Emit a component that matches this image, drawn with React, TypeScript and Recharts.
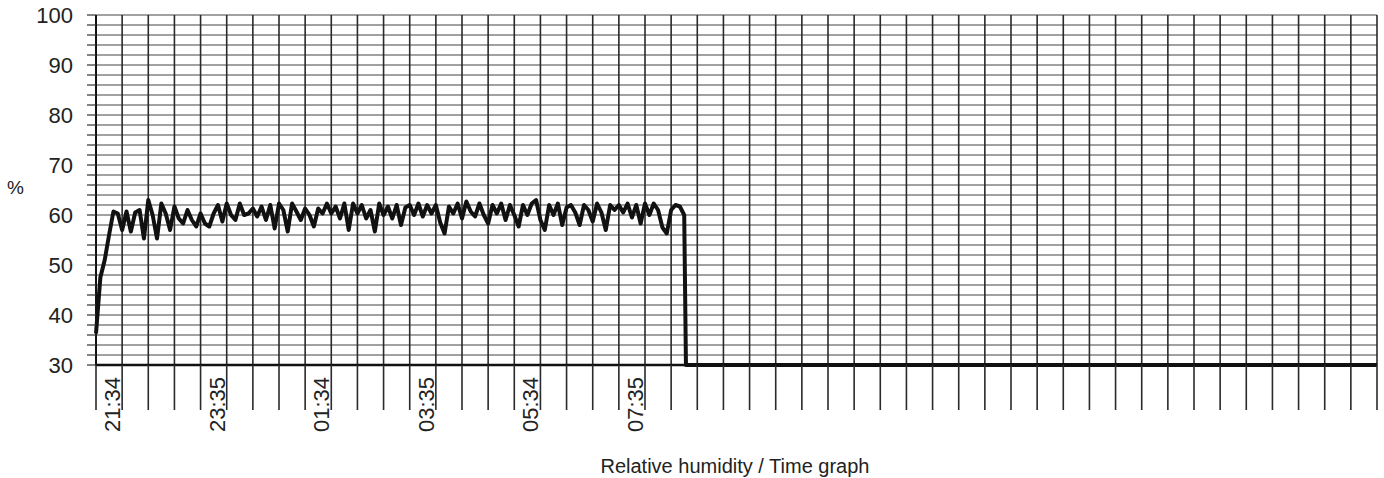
import { CartesianGrid, Line, LineChart, XAxis, YAxis } from 'recharts'

// logger samples every 5 minutes
const SAMPLE_MIN = 5

const rh = [
  36.3, 47.5, 51, 56, 60.7, 60.3, 57, 60.7, 56.7, 60.5,
  61, 55.3, 63, 60, 55.3, 62.3, 60.3, 57, 61.7, 59.3,
  58.3, 61, 59, 57.7, 60.3, 58.3, 57.7, 60.3, 62, 58.7,
  62.3, 60, 59, 62.3, 60, 60.3, 61.3, 59.7, 61.7, 59,
  62, 57.3, 62.3, 61, 56.7, 62.3, 60.7, 59, 61.3, 60,
  57.7, 61.3, 60.3, 62.3, 60.3, 61.7, 59.3, 62.3, 57, 62.3,
  60.3, 62, 59.3, 61, 56.7, 62.3, 60, 61.7, 59.3, 62,
  58, 61.5, 62, 60, 62.3, 59.7, 62, 60.3, 62, 58.5,
  56.3, 61.7, 60.3, 62.3, 59.3, 62.7, 60.7, 59.7, 62.3, 60,
  58.3, 62, 60.3, 62.3, 59, 62, 60, 57.7, 62, 60,
  62.3, 63, 59, 57, 62, 60, 62.3, 58, 61.5, 62,
  60.5, 58, 62, 61, 58.7, 62.3, 60.5, 57, 62, 61,
  62, 60.5, 62.3, 59.5, 62, 58.3, 62.3, 60, 62.3, 61,
  57.5, 56.3, 61, 62, 61.7, 60,
]

// sensor disconnected: reading pinned at the bottom of the scale
const tailMinutes = [677, 1470]
const tailRh = [30, 30]

const xTicks = [
  0, 30, 60, 90, 120, 150, 180, 210, 240, 270,
  300, 330, 360, 390, 420, 450, 480, 510, 540, 570,
  600, 630, 660, 690, 720, 750, 780, 810, 840, 870,
  900, 930, 960, 990, 1020, 1050, 1080, 1110, 1140, 1170,
  1200, 1230, 1260, 1290, 1320, 1350, 1380, 1410, 1440, 1470,
]
const xLabels: Record<number, string> = {
  30: '21:34',
  150: '23:35',
  270: '01:34',
  390: '03:35',
  510: '05:34',
  630: '07:35',
}

const yTicks = [
  30, 32, 34, 36, 38, 40, 42, 44, 46, 48,
  50, 52, 54, 56, 58, 60, 62, 64, 66, 68,
  70, 72, 74, 76, 78, 80, 82, 84, 86, 88,
  90, 92, 94, 96, 98, 100,
]

const data = [
  ...rh.map((v, i) => ({ t: i * SAMPLE_MIN, rh: v })),
  ...tailMinutes.map((t, i) => ({ t, rh: tailRh[i] })),
]

const FONT = '"Liberation Sans", Arial, sans-serif'
const INK = '#222'

const XTick = ({ x, y, payload }: any) => {
  const label = xLabels[payload.value]
  if (!label) return <g />
  const ax = x - 2
  const ay = y - 35
  return (
    <text
      x={ax}
      y={ay}
      transform={`rotate(-90 ${ax} ${ay})`}
      textAnchor="end"
      fontSize={22}
      fontFamily={FONT}
      fill={INK}
    >
      {label}
    </text>
  )
}

const YTick = ({ x, y, payload }: any) => {
  if (payload.value % 10 !== 0) return <g />
  return (
    <text x={x} y={y} dy="0.36em" textAnchor="end" fontSize={22} fontFamily={FONT} fill={INK}>
      {payload.value}
    </text>
  )
}

export default function App() {
  return (
    <div style={{ position: 'absolute', left: 0, top: 0, width: 1384, height: 478, background: '#fff' }}>
      <LineChart width={1384} height={478} data={data} margin={{ top: 15, right: 7, left: 0, bottom: 0 }}>
        <CartesianGrid vertical={false} stroke="#444" strokeWidth={1.2} />
        <CartesianGrid horizontal={false} stroke="#2a2a2a" strokeWidth={1.6} />
        <XAxis
          dataKey="t"
          type="number"
          domain={[0, 1470]}
          ticks={xTicks}
          interval={0}
          height={113}
          tickSize={45}
          tickMargin={2}
          tick={<XTick />}
          axisLine={{ stroke: '#111', strokeWidth: 2.5 }}
          tickLine={{ stroke: '#2a2a2a', strokeWidth: 1.6 }}
        />
        <YAxis
          type="number"
          domain={[30, 100]}
          ticks={yTicks}
          interval={0}
          width={96}
          tickSize={9}
          tickMargin={14}
          tick={<YTick />}
          axisLine={{ stroke: '#111', strokeWidth: 2 }}
          tickLine={{ stroke: '#333', strokeWidth: 1.2 }}
        />
        <Line
          type="linear"
          dataKey="rh"
          stroke="#111"
          strokeWidth={4}
          strokeLinejoin="round"
          dot={false}
          isAnimationActive={false}
        />
      </LineChart>
      <div style={{ position: 'absolute', left: 7, top: 177, fontSize: 19, fontFamily: FONT, color: INK }}>%</div>
      <div
        style={{
          position: 'absolute',
          left: 0,
          width: 1470,
          top: 455,
          textAlign: 'center',
          fontSize: 20,
          fontFamily: FONT,
          color: INK,
        }}
      >
        Relative humidity / Time graph
      </div>
    </div>
  )
}
